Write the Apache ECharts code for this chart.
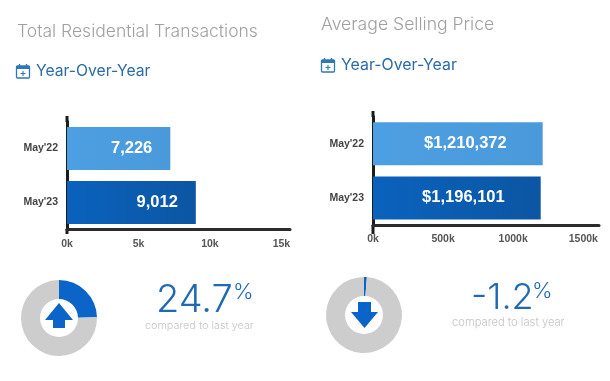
<!DOCTYPE html>
<html>
<head>
<meta charset="utf-8">
<script src="https://cdn.jsdelivr.net/npm/echarts@6/dist/echarts.min.js"></script>
<style>
  html, body { margin: 0; padding: 0; background: #fff; }
  #chart { width: 610px; height: 381px; }
</style>
</head>
<body>
<div id="chart"></div>
<script>
var categories = ["May'22", "May'23"];
var transactions = [7226, 9012];
var prices = [1210372, 1196101];
var transactionsChange = [24.7, 75.3];
var priceChange = [1.2, 98.8];

var titleFont = 'Inter';
var barFont = '"Liberation Sans"';
var darkBlue = '#0b64c8';

function barColor(from, to) {
  return new echarts.graphic.LinearGradient(0, 0, 1, 0, [
    { offset: 0, color: from },
    { offset: 1, color: to }
  ]);
}

function barData(values) {
  return [
    { value: values[0], itemStyle: { color: barColor('#4c9fe2', '#4a9adb') } },
    { value: values[1], itemStyle: { color: barColor('#0a62bd', '#0c56a3') } }
  ];
}

function kLabel(v) {
  return v / 1000 + 'k';
}

function xAxis(gridIndex, max, interval) {
  return {
    type: 'value', gridIndex: gridIndex, min: 0, max: max, interval: interval,
    splitLine: { show: false },
    axisTick: { show: false },
    axisLine: { show: true, lineStyle: { color: '#2b2b2b', width: 3 } },
    axisLabel: {
      formatter: kLabel, showMaxLabel: false, margin: 9,
      color: '#555', fontFamily: barFont, fontWeight: 'bold', fontSize: 10.5
    }
  };
}

function yAxis(gridIndex) {
  return {
    type: 'category', gridIndex: gridIndex, data: categories, inverse: true,
    axisTick: { show: false },
    axisLine: { show: true, lineStyle: { color: '#1c1c1c', width: 3 } },
    axisLabel: {
      margin: 9, color: '#444', fontFamily: barFont, fontWeight: 'bold', fontSize: 10.5
    }
  };
}

function barSeries(axisIndex, values, fmt) {
  return {
    type: 'bar', xAxisIndex: axisIndex, yAxisIndex: axisIndex, barWidth: 43, silent: true,
    data: barData(values),
    label: {
      show: true, position: 'insideRight', distance: fmt.distance, formatter: fmt.text,
      color: '#fff', fontFamily: barFont, fontWeight: 'bold', fontSize: 16.5
    }
  };
}

function donut(center, values) {
  return {
    type: 'pie', center: center, radius: [19, 38], silent: true,
    label: { show: false }, labelLine: { show: false },
    data: [
      { value: values[0], itemStyle: { color: darkBlue } },
      { value: values[1], itemStyle: { color: '#cdcdcd' } }
    ]
  };
}

// calendar icon in front of Year-Over-Year
function calendar(x, y) {
  var c = '#2f78b8';
  return {
    type: 'group', x: x, y: y, silent: true,
    children: [
      { type: 'rect', shape: { x: 0.5, y: 2, width: 13, height: 12, r: 1 }, style: { fill: 'none', stroke: c, lineWidth: 1.3 } },
      { type: 'rect', shape: { x: 0.5, y: 2, width: 13, height: 3 }, style: { fill: c } },
      { type: 'line', shape: { x1: 3.5, y1: 0, x2: 3.5, y2: 3 }, style: { stroke: c, lineWidth: 1.4 } },
      { type: 'line', shape: { x1: 10.5, y1: 0, x2: 10.5, y2: 3 }, style: { stroke: c, lineWidth: 1.4 } },
      { type: 'line', shape: { x1: 4.5, y1: 9.5, x2: 9.5, y2: 9.5 }, style: { stroke: c, lineWidth: 1.1 } },
      { type: 'line', shape: { x1: 7, y1: 7, x2: 7, y2: 12 }, style: { stroke: c, lineWidth: 1.1 } }
    ]
  };
}

function arrow(points) {
  return { type: 'polygon', silent: true, shape: { points: points }, style: { fill: darkBlue } };
}

function axisTop(x, y1, y2) {
  return { type: 'line', silent: true, shape: { x1: x, y1: y1, x2: x, y2: y2 }, style: { stroke: '#1c1c1c', lineWidth: 3 } };
}

function label(x, y, text, size, color, weight) {
  return {
    type: 'text', x: x, y: y, silent: true,
    style: { text: text, fill: color, fontFamily: titleFont, fontSize: size, fontWeight: weight, textVerticalAlign: 'middle' }
  };
}

var chart = echarts.init(document.getElementById('chart'));
chart.setOption({
  backgroundColor: '#fff',
  animation: false,
  grid: [
    { left: 67, top: 121.5, width: 223, height: 108 },
    { left: 373, top: 116.5, width: 226, height: 108.5 }
  ],
  xAxis: [xAxis(0, 15600, 5000), xAxis(1, 1612000, 500000)],
  yAxis: [yAxis(0), yAxis(1)],
  series: [
    barSeries(0, transactions, { distance: 18, text: function (p) { return p.value.toLocaleString('en-US'); } }),
    barSeries(1, prices, { distance: 36, text: function (p) { return '$' + p.value.toLocaleString('en-US'); } }),
    donut([59, 318], transactionsChange),
    donut([364, 315], priceChange)
  ],
  graphic: [
    label(17, 32, 'Total Residential Transactions', 17.5, '#a0a0a0', 300),
    label(321, 25, 'Average Selling Price', 17.6, '#a0a0a0', 300),
    label(36, 71, 'Year-Over-Year', 15.7, '#2a6ba8', 400),
    label(341, 65, 'Year-Over-Year', 15.9, '#2a6ba8', 400),
    calendar(16, 64),
    calendar(321, 58),
    axisTop(67, 116, 122),
    axisTop(67, 229, 234),
    axisTop(373, 111, 117),
    axisTop(373, 225, 234),
    arrow([[59, 303], [73, 320], [65, 320], [65, 328], [53, 328], [53, 320], [45, 320]]),
    arrow([[358, 302], [371, 302], [371, 312], [378, 312], [364.5, 328], [351, 312], [358, 312]]),
    label(156, 301, transactionsChange[0] + '', 38, '#1f6ab5', 300),
    label(233, 292, '%', 22, '#1f6ab5', 300),
    label(145, 326, 'compared to last year', 10.8, '#c4c4c4', 300),
    label(471, 298, '-' + priceChange[0], 36, '#1f6ab5', 300),
    label(532, 291, '%', 22, '#1f6ab5', 300),
    label(452, 323, 'compared to last year', 11.2, '#c4c4c4', 300)
  ]
});
</script>
</body>
</html>
